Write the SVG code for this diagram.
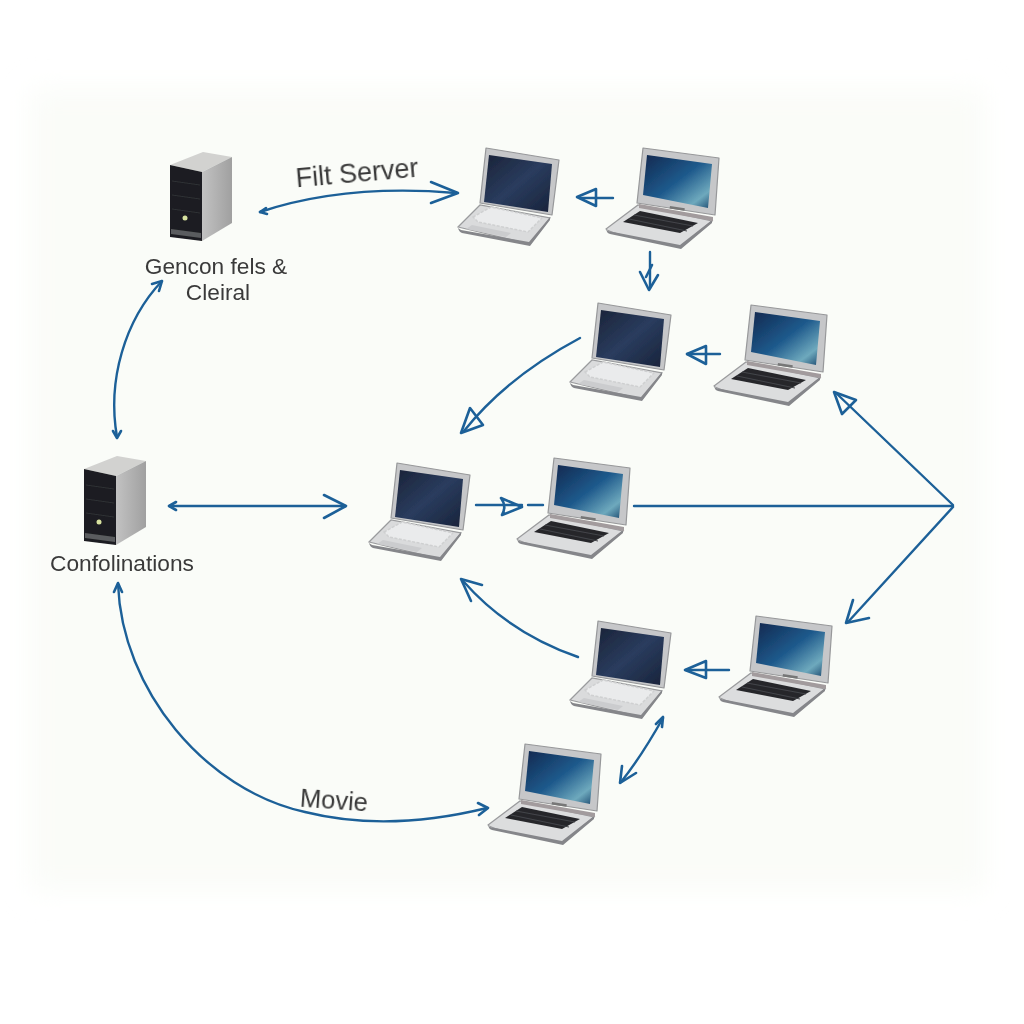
<svg xmlns="http://www.w3.org/2000/svg" width="1024" height="1024" viewBox="0 0 1024 1024">
  <style>
    .link { fill: none; stroke: #1c6098; stroke-width: 2.4; stroke-linecap: round; stroke-linejoin: round; }
    .head { fill: none; stroke: #1c6098; stroke-width: 2.6; stroke-linecap: round; stroke-linejoin: round; }
    .label { font-family: "Liberation Sans", Arial, sans-serif; font-size: 22.7px; fill: #3a3a3a; text-anchor: middle; }
    .big { font-size: 27px; }
    .mid { font-size: 25.5px; }
  </style>
  <defs>
    <filter id="edge" x="-10%" y="-10%" width="120%" height="120%"><feGaussianBlur stdDeviation="14"/></filter>
    <filter id="soft" x="-10%" y="-10%" width="120%" height="120%"><feGaussianBlur stdDeviation="0.7"/></filter>
    <linearGradient id="screenDark" x1="0" y1="0" x2="1" y2="1">
      <stop offset="0" stop-color="#1a2338"/><stop offset="0.5" stop-color="#2a3c5e"/><stop offset="1" stop-color="#18233a"/>
    </linearGradient>
    <linearGradient id="screenBlue" x1="0" y1="0" x2="1" y2="1">
      <stop offset="0" stop-color="#10284f"/><stop offset="0.5" stop-color="#1f5a8c"/><stop offset="0.82" stop-color="#6ea9bd"/><stop offset="1" stop-color="#1d4a70"/>
    </linearGradient>
    <linearGradient id="towerSide" x1="0" y1="0" x2="1" y2="0">
      <stop offset="0" stop-color="#c2c2c2"/><stop offset="1" stop-color="#a0a0a0"/>
    </linearGradient>
    <g id="tower">
      <polygon points="0,14 33,1 62,6 32,21" fill="#d2d2d0"/>
      <polygon points="32,21 62,6 62,72 32,90" fill="url(#towerSide)"/>
      <polygon points="0,14 32,21 32,90 0,86" fill="#1c1d20"/>
      <path d="M2 30L30 34M2 44L30 48M2 58L30 62" stroke="#2f3136" stroke-width="1" fill="none"/>
      <polygon points="1,78 31,82 31,87 1,83" fill="#5a5c5e"/>
      <circle cx="15" cy="67" r="2.5" fill="#d8e2a0"/>
    </g>
    <g id="laptopSilver">
      <polygon points="0,79 22,57 92,70 72,96 Q 3,84 0,79" fill="#dadbdc" stroke="#9a9b9d" stroke-width="1.2"/>
      <path d="M0 80Q1 84 4 85L72 98L92 72L92 69L71 94L3 82Z" fill="#85868a"/>
      <polygon points="28,0 101,12 94,67 22,55" fill="#c6c7c9" stroke="#97989a" stroke-width="1.2" stroke-linejoin="round"/>
      <polygon points="31,7 94,16 90,64 26,54" fill="url(#screenDark)"/>
      <polygon points="15,69 33,59 84,70 70,84 20,74" fill="#eaebec" stroke="#cfd0d1" stroke-width="1.5" stroke-dasharray="3 1.5"/>
      <polygon points="8,81 48,89 53,85 14,77" fill="#cbccce"/>
    </g>
    <g id="laptopBlue">
      <path d="M1 81L33 57L107 73L75 99Q5 86 1 81Z" fill="#dcdddE" stroke="#9a9b9d" stroke-width="1.2"/>
      <path d="M1 82Q2 85 5 86L76 101L107 75L107 72L75 97L3 83Z" fill="#85868a"/>
      <polygon points="38,0 114,10 110,67 32,55" fill="#c6c7c9" stroke="#97989a" stroke-width="1.2" stroke-linejoin="round"/>
      <polygon points="42,7 107,16 103,60 38,47" fill="url(#screenBlue)"/>
      <polygon points="18,74 35,63 93,75 75,85" fill="#26272b"/>
      <path d="M24 71L82 83M29 67L88 78" stroke="#44454a" stroke-width="1" fill="none"/>
      <polygon points="34,56 108,69 108,73 34,60" fill="#a29b9d"/>
      <rect x="65" y="58" width="15" height="2.5" fill="#777" transform="rotate(9 65 58)"/>
    </g>
  </defs>

  <rect width="1024" height="1024" fill="#ffffff"/>
  <rect x="30" y="90" width="955" height="800" fill="#fafcf8" filter="url(#edge)"/>

  <g id="connectors">
    <path class="link" d="M260 212C320 192 385 187 456 193"/>
    <path class="head" d="M431 182L458 193L431 203M266 208L260 212L267 214"/>
    <path class="link" d="M162 281C125 320 107 380 117 437"/>
    <path class="head" d="M152 284L162 281L159 291M113 431L117 438L121 431"/>
    <path class="link" d="M170 506H345"/>
    <path class="head" d="M324 495L346 506L324 518M176 502L169 506L176 510"/>
    <path class="link" d="M613 198H580"/>
    <path class="head" d="M596 189L577 197L596 206Z"/>
    <path class="link" d="M650 252V288"/>
    <path class="head" d="M640 272L649 290L658 275M646 277L652 265"/>
    <path class="link" d="M720 354H687"/>
    <path class="head" d="M706 346L687 354L706 364Z"/>
    <path class="link" d="M580 338C535 362 495 392 464 431"/>
    <path class="head" d="M470 408L461 433L483 425Z"/>
    <path class="link" d="M476 505H522"/>
    <path class="head" d="M501 498L522 507L502 515Q507 506 501 498Z"/>
    <path class="link" d="M528 505H543"/>
    <path class="link" d="M634 506H953"/>
    <path class="link" d="M953 505L836 393"/>
    <path class="head" d="M842 414L834 392L856 400Z"/>
    <path class="link" d="M953 507L848 622"/>
    <path class="head" d="M853 600L846 623L869 618"/>
    <path class="link" d="M578 657C535 642 495 617 464 582"/>
    <path class="head" d="M471 601L461 579L482 585"/>
    <path class="link" d="M729 670H686"/>
    <path class="head" d="M706 661L685 670L706 678Z"/>
    <path class="link" d="M663 718C650 741 637 762 621 782"/>
    <path class="head" d="M622 766L620 783L636 773M656 724L663 717L662 727"/>
    <path class="link" d="M118 584C122 690 205 790 305 812C365 827 430 822 487 808"/>
    <path class="head" d="M114 592L118 583L122 592M478 803L488 808L479 815"/>
  </g>

  <g filter="url(#soft)">
    <g id="server-top"><use href="#tower" x="170" y="151"/></g>
    <g id="server-bottom"><use href="#tower" x="84" y="455"/></g>
    <g id="laptop-1"><use href="#laptopSilver" x="458" y="148"/></g>
    <g id="laptop-2"><use href="#laptopBlue" x="605" y="148"/></g>
    <g id="laptop-3"><use href="#laptopSilver" x="570" y="303"/></g>
    <g id="laptop-4"><use href="#laptopBlue" x="713" y="305"/></g>
    <g id="laptop-5"><use href="#laptopSilver" x="369" y="463"/></g>
    <g id="laptop-6"><use href="#laptopBlue" x="516" y="458"/></g>
    <g id="laptop-7"><use href="#laptopSilver" x="570" y="621"/></g>
    <g id="laptop-8"><use href="#laptopBlue" x="718" y="616"/></g>
    <g id="laptop-9"><use href="#laptopBlue" x="487" y="744"/></g>
  </g>

  <g id="labels">
    <text class="label big" x="357" y="182" transform="rotate(-5 357 173)">Filt Server</text>
    <text class="label" x="216" y="274">Gencon fels &amp;</text>
    <text class="label" x="218" y="300">Cleiral</text>
    <text class="label" x="122" y="571">Confolinations</text>
    <text class="label mid" x="334" y="809" transform="rotate(4 334 800)">Movie</text>
  </g>
</svg>
